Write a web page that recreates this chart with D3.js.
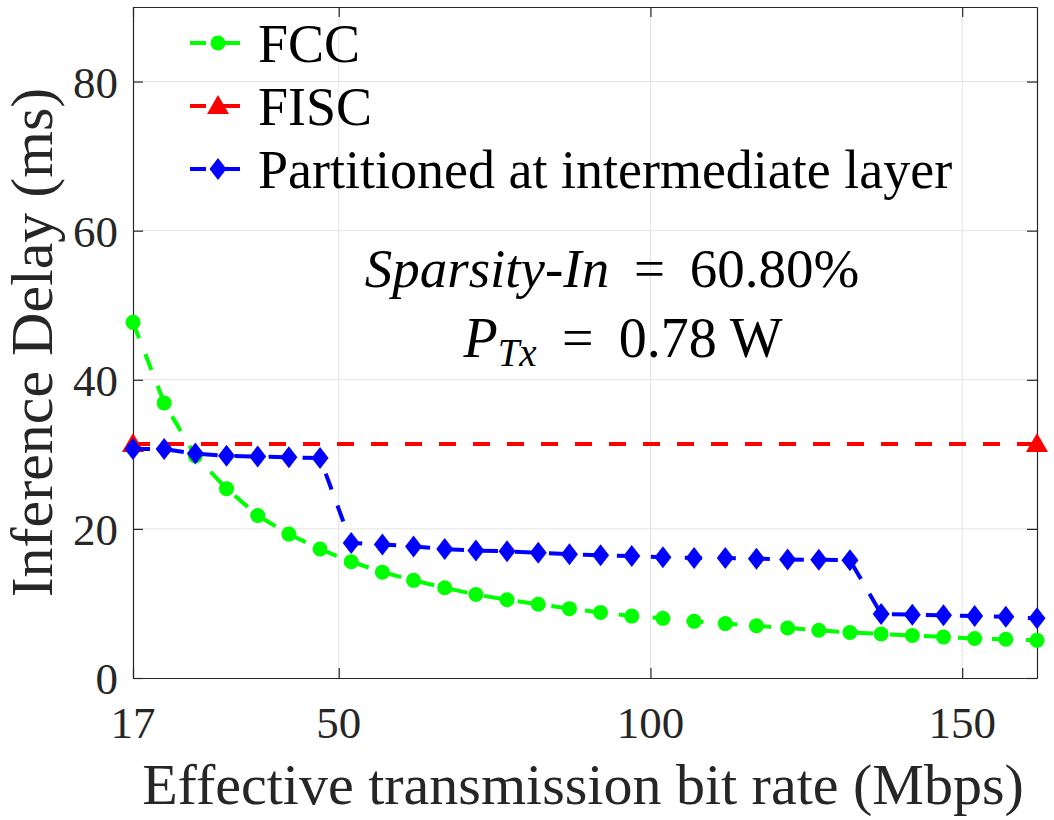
<!DOCTYPE html>
<html>
<head>
<meta charset="utf-8">
<script src="https://cdn.jsdelivr.net/npm/d3@7"></script>
<style>
  body { margin: 0; background: #fff; }
</style>
</head>
<body>
<script>
// bit rate (Mbps)
const rates = [17, 22, 27, 32, 37, 42, 47, 52, 57, 62, 67, 72, 77, 82, 87, 92, 97,
               102, 107, 112, 117, 122, 127, 132, 137, 142, 147, 152, 157, 162];
// inference delay (ms)
const fccDelay = [47.7, 36.9, 29.8, 25.4, 21.8, 19.3, 17.3, 15.6, 14.2, 13.1, 12.1, 11.2, 10.5, 9.9, 9.3,
                  8.8, 8.3, 8.0, 7.6, 7.3, 7.0, 6.7, 6.4, 6.1, 5.9, 5.7, 5.5, 5.3, 5.2, 5.05];
const partDelay = [30.7, 30.7, 30.1, 29.8, 29.7, 29.6, 29.5, 18.1, 17.9, 17.65, 17.3, 17.1, 17.0, 16.8, 16.6,
                   16.45, 16.35, 16.2, 16.1, 16.1, 16.0, 15.9, 15.85, 15.8, 8.6, 8.5, 8.4, 8.3, 8.2, 8.0];
const fiscRates = [17, 162];
const fiscDelay = [31.4, 31.4];

const xTicks = [17, 50, 100, 150];
const yTicks = [0, 20, 40, 60, 80];

const width = 1054, height = 820;
const margin = {top: 7, right: 17, bottom: 142, left: 133};
const serif = "'Liberation Serif'";

const svg = d3.select("body").append("svg")
    .attr("width", width)
    .attr("height", height);

const x = d3.scaleLinear().domain([17, 162]).range([margin.left, width - margin.right]);
const y = d3.scaleLinear().domain([0, 90]).range([height - margin.bottom, margin.top]);

// grid
svg.append("g")
    .selectAll("line")
    .data(xTicks.slice(1))
    .join("line")
    .attr("x1", d => x(d)).attr("x2", d => x(d))
    .attr("y1", y(0)).attr("y2", y(90))
    .attr("stroke", "#e3e3e3").attr("stroke-width", 1);
svg.append("g")
    .selectAll("line")
    .data(yTicks.slice(1))
    .join("line")
    .attr("x1", x(17)).attr("x2", x(162))
    .attr("y1", d => y(d)).attr("y2", d => y(d))
    .attr("stroke", "#e3e3e3").attr("stroke-width", 1);

// axes (lines only; labels are added as top-level text below)
svg.append("g")
    .attr("transform", `translate(0,${y(0)})`)
    .call(d3.axisBottom(x).tickValues(xTicks).tickSize(-10).tickFormat("").tickSizeOuter(0));
svg.append("g")
    .attr("transform", `translate(${x(17)},0)`)
    .call(d3.axisLeft(y).tickValues(yTicks).tickSize(-10).tickFormat("").tickSizeOuter(0));
svg.append("g")
    .attr("transform", `translate(0,${y(90)})`)
    .call(d3.axisTop(x).tickValues(xTicks).tickSize(-10).tickFormat("").tickSizeOuter(0));
svg.append("g")
    .attr("transform", `translate(${x(162)},0)`)
    .call(d3.axisRight(y).tickValues(yTicks).tickSize(-10).tickFormat("").tickSizeOuter(0));

svg.selectAll(".domain").attr("stroke", "#262626").attr("stroke-width", 1.2);
svg.selectAll(".tick line").attr("stroke", "#262626").attr("stroke-width", 1.2);
svg.selectAll(".tick text").remove();

// tick labels
xTicks.forEach(t => {
  svg.append("text")
      .attr("x", x(t))
      .attr("y", y(0) + 60)
      .attr("text-anchor", "middle")
      .style("font-family", serif)
      .style("font-size", "45px")
      .attr("fill", "#262626")
      .text(t);
});
yTicks.forEach(t => {
  svg.append("text")
      .attr("x", x(17) - 15)
      .attr("y", y(t) + 16)
      .attr("text-anchor", "end")
      .style("font-family", serif)
      .style("font-size", "45px")
      .attr("fill", "#262626")
      .text(t);
});

// axis labels
svg.append("text")
    .attr("x", (x(17) + x(162)) / 2 - 2)
    .attr("y", 804)
    .attr("text-anchor", "middle")
    .style("font-family", serif)
    .style("font-size", "58px")
    .attr("fill", "#262626")
    .text("Effective transmission bit rate (Mbps)");

svg.append("text")
    .attr("transform", `translate(52,${(y(0) + y(90)) / 2}) rotate(-90)`)
    .attr("text-anchor", "middle")
    .style("font-family", serif)
    .style("font-size", "60px")
    .attr("fill", "#262626")
    .text("Inference Delay (ms)");

// series
const series = [
  {name: "FCC", xs: rates, ys: fccDelay, color: "#00ff00", marker: "circle"},
  {name: "FISC", xs: fiscRates, ys: fiscDelay, color: "#ff0000", marker: "triangle"},
  {name: "Partitioned at intermediate layer", xs: rates, ys: partDelay, color: "#0000ff", marker: "diamond"}
];

function drawMarker(g, kind, color) {
  if (kind === "diamond") {
    g.append("path").attr("d", "M0,-11L8.5,0L0,11L-8.5,0Z").attr("fill", color);
  } else if (kind === "triangle") {
    g.append("path").attr("d", "M0,-11L11,8L-11,8Z").attr("fill", color);
  } else {
    g.append("circle").attr("r", 7.5).attr("fill", color);
  }
}

const line = d3.line();
const plot = svg.append("g");
series.forEach(s => {
  const pts = s.xs.map((d, i) => [x(d), y(s.ys[i])]);
  plot.append("path")
      .attr("d", line(pts))
      .attr("fill", "none")
      .attr("stroke", s.color)
      .attr("stroke-width", 4)
      .attr("stroke-dasharray", "17,17");
  pts.forEach(p => {
    const g = plot.append("g").attr("transform", `translate(${p[0]},${p[1]})`);
    drawMarker(g, s.marker, s.color);
  });
});

// legend
series.forEach((s, i) => {
  const ly = 43 + i * 63;
  const g = svg.append("g").attr("transform", `translate(0,${ly})`);
  g.append("line").attr("x1", 190).attr("x2", 206).attr("y1", 0).attr("y2", 0)
      .attr("stroke", s.color).attr("stroke-width", 4);
  g.append("line").attr("x1", 223).attr("x2", 240).attr("y1", 0).attr("y2", 0)
      .attr("stroke", s.color).attr("stroke-width", 4);
  const m = g.append("g").attr("transform", "translate(218,0)");
  drawMarker(m, s.marker, s.color);
  svg.append("text")
      .attr("x", 258)
      .attr("y", ly + 19)
      .style("font-family", serif)
      .style("font-size", "54px")
      .attr("fill", "#000")
      .text(s.name);
});

// annotation
const t1 = svg.append("text").attr("x", 612).attr("y", 287).attr("text-anchor", "middle")
    .style("font-family", serif).style("font-size", "55px").attr("fill", "#000");
t1.append("tspan").style("font-style", "italic").text("Sparsity-In");
t1.append("tspan").text(" \u2009=\u2009 60.80%");
const t2 = svg.append("text").attr("x", 623).attr("y", 357).attr("text-anchor", "middle")
    .style("font-family", serif).style("font-size", "56px").attr("fill", "#000");
t2.append("tspan").style("font-style", "italic").text("P");
t2.append("tspan").style("font-style", "italic").style("font-size", "39px").attr("dy", 9).text("Tx");
t2.append("tspan").attr("dy", -9).text(" \u2009=\u2009 0.78 W");
</script>
</body>
</html>
